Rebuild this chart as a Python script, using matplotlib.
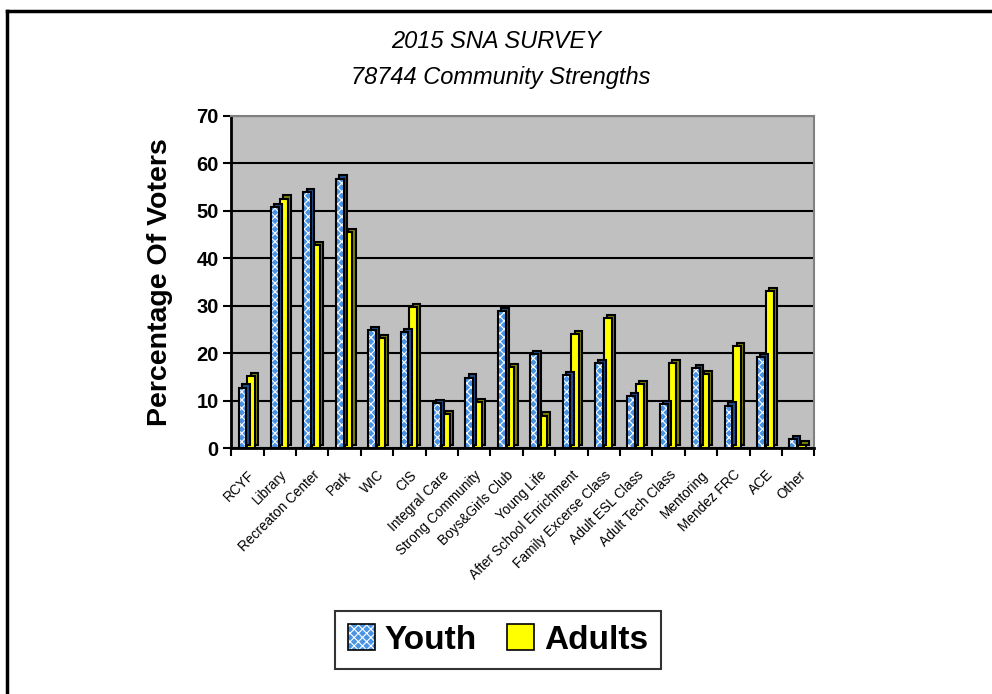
import matplotlib
matplotlib.use("Agg")
import matplotlib.pyplot as plt
import numpy as np
from matplotlib.patches import Patch
from matplotlib.lines import Line2D
from matplotlib.legend_handler import HandlerTuple

plt.rcParams['font.family'] = ['Liberation Sans', 'DejaVu Sans']
plt.rcParams['hatch.linewidth'] = 0.8

# data
categories = ['RCYF', 'Library', 'Recreaton Center', 'Park', 'WIC', 'CIS',
              'Integral Care', 'Strong Community', 'Boys&Girls Club', 'Young Life',
              'After School Enrichment', 'Family Excerse Class', 'Adult ESL Class',
              'Adult Tech Class', 'Mentoring', 'Mendez FRC', 'ACE', 'Other']
youth = [12.8, 50.8, 53.9, 56.8, 25.0, 24.5, 9.6, 14.9, 29.0, 19.8,
         15.4, 18.0, 11.0, 9.3, 17.0, 9.0, 19.2, 2.0]
adults = [15.2, 52.6, 42.9, 45.5, 23.3, 29.8, 7.3, 9.8, 17.1, 6.9,
          24.0, 27.5, 13.6, 18.0, 15.7, 21.5, 33.1, 0.8]
yticks = [0, 10, 20, 30, 40, 50, 60, 70]

blue = '#4A94E4'
blue_dark = '#1F4E8C'
yellow = '#FFFF00'
yellow_dark = '#808000'

fig = plt.figure(figsize=(9.92, 6.94), dpi=100)
ax = fig.add_axes([0.233, 0.354, 0.588, 0.479])
ax.set_facecolor('#C0C0C0')

x = np.arange(len(categories))
w = 0.24
dx, dy = 0.1, 0.65   # fake 3D depth

# adults bars (side/top face first, then front)
ax.bar(x + 0.12 + dx, adults, w, bottom=dy, color=yellow_dark, edgecolor='black',
       linewidth=1.5, zorder=2)
ax.bar(x + 0.12, adults, w, color=yellow, edgecolor='black', linewidth=1.5, zorder=3)

# youth bars
ax.bar(x - 0.15 + dx, youth, w, bottom=dy, color=blue_dark, edgecolor='black',
       linewidth=1.5, zorder=4)
ax.bar(x - 0.15, youth, w, color=blue, edgecolor='none', zorder=5)
ax.bar(x - 0.15, youth, w, color='none', edgecolor='white', linewidth=0,
       hatch='xxxx', zorder=6)
ax.bar(x - 0.15, youth, w, color='none', edgecolor='black', linewidth=1.5, zorder=7)

ax.set_xlim(-0.5, len(categories) - 0.5)
ax.set_ylim(0, 70)
ax.set_yticks(yticks)
ax.set_yticklabels([str(t) for t in yticks], fontsize=14.5, fontweight='bold')
ax.yaxis.grid(True, color='black', linewidth=1.5)
ax.set_axisbelow(True)

ax.set_xticks(x)
ax.set_xticklabels(categories, rotation=45, ha='right', rotation_mode='anchor',
                   fontsize=9.8)
ax.tick_params(axis='x', which='major', length=0, pad=14)
ax.set_xticks(np.arange(len(categories) + 1) - 0.5, minor=True)
ax.tick_params(axis='x', which='minor', length=6, width=1.5, direction='out')
ax.tick_params(axis='y', length=6, width=1.5, pad=3)

for side in ['left', 'bottom']:
    ax.spines[side].set_linewidth(2)
    ax.spines[side].set_color('black')
for side in ['top', 'right']:
    ax.spines[side].set_linewidth(1.5)
    ax.spines[side].set_color('#808080')

ax.set_ylabel('Percentage Of Voters', fontsize=20.5, fontweight='bold', labelpad=17)

fig.text(0.5, 0.94, '2015 SNA SURVEY', ha='center', va='center', fontsize=17,
         style='italic')
fig.text(0.505, 0.889, '78744 Community Strengths', ha='center', va='center',
         fontsize=17, style='italic')

# legend
h_youth = (Patch(facecolor=blue, edgecolor='none'),
           Patch(facecolor='none', edgecolor='white', hatch='xxxx', linewidth=0),
           Patch(facecolor='none', edgecolor='black', linewidth=1.2))
h_adult = Patch(facecolor=yellow, edgecolor='black', linewidth=1.2)
leg = fig.legend([h_youth, h_adult], ['Youth', 'Adults'], loc='center',
                 bbox_to_anchor=(0.502, 0.078), ncol=2, frameon=True, fancybox=False,
                 handler_map={tuple: HandlerTuple(ndivide=1, pad=0)},
                 prop={'size': 24, 'weight': 'bold'}, handlelength=0.8,
                 handleheight=0.8, handletextpad=0.3, columnspacing=0.9,
                 borderpad=0.4)
leg.get_frame().set_edgecolor('black')
leg.get_frame().set_linewidth(1.5)

# outer border of the chart area
fig.add_artist(Line2D([0.007, 0.007], [0, 1 - 11 / 694], color='black', linewidth=2.5,
                      transform=fig.transFigure))
fig.add_artist(Line2D([0.007, 1], [1 - 11 / 694, 1 - 11 / 694], color='black',
                      linewidth=2.5, transform=fig.transFigure))

fig.savefig('out.png', dpi=100)
